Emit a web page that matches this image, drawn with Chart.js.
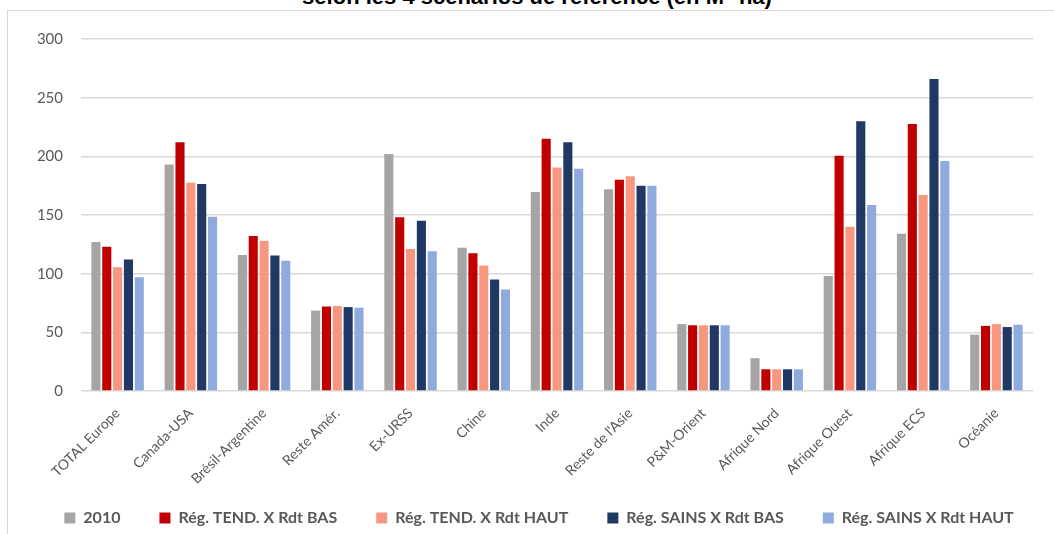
<!DOCTYPE html>
<html>
<head>
<meta charset="utf-8">
<script src="https://cdn.jsdelivr.net/npm/chart.js@4"></script>
<style>
  html, body { margin: 0; padding: 0; background: #fff; }
  #wrap { position: relative; width: 1054px; height: 534px; overflow: hidden; }
  #cadre { position: absolute; left: 7px; top: 10px; width: 1060px; height: 540px; border: 1.5px solid #d9d9d9; box-sizing: border-box; }
  #titre { position: absolute; left: 0; width: 1074px; top: -14.5px; text-align: center; line-height: 22px;
           font-family: "Liberation Sans", Arial, sans-serif; font-weight: bold; font-size: 22px; color: #000; }
  canvas { position: absolute; left: 0; top: 0; }
</style>
</head>
<body>
<div id="wrap">
  <div id="cadre"></div>
  <div id="titre">selon les 4 scénarios de référence (en M° ha)</div>
  <canvas id="graphique" width="1054" height="534"></canvas>
</div>
<script>
// Régions
const regions = ['TOTAL Europe', 'Canada-USA', 'Brésil-Argentine', 'Reste Amér.', 'Ex-URSS', 'Chine', 'Inde',
  "Reste de l'Asie", 'P&M-Orient', 'Afrique Nord', 'Afrique Ouest', 'Afrique ECS', 'Océanie'];

// Séries (M ha)
const val2010       = [127, 193, 116, 68.5, 202, 122, 169.5, 172, 57, 28, 98, 134, 48];
const tendRdtBas    = [123, 212, 132, 72, 148, 117.5, 215, 180, 56, 18.5, 200.5, 227.5, 55.5];
const tendRdtHaut   = [105.5, 177.5, 128, 72.5, 121, 107, 190.5, 183, 56, 18.5, 140, 167, 57];
const sainsRdtBas   = [112, 176.5, 115.5, 71.5, 145, 95, 212, 175, 56, 18.5, 230, 266, 54.5];
const sainsRdtHaut  = [97, 148.5, 111, 71, 119, 86.5, 189.5, 175, 56, 18.5, 158.5, 196, 56.5];

const ticksY = [0, 50, 100, 150, 200, 250, 300];

const policeTexte = 'Lato, "Open Sans", sans-serif';

// les étiquettes inclinées débordent sur la zone de la légende : pas de découpe
const sansDecoupe = {
  id: 'sansDecoupe',
  beforeDraw(chart) {
    chart.scales.x._computeLabelArea = () => undefined;
  }
};

const ctx = document.getElementById('graphique').getContext('2d');
new Chart(ctx, {
  type: 'bar',
  data: {
    labels: regions,
    datasets: [
      { label: '2010', data: val2010, backgroundColor: '#a5a5a5' },
      { label: 'Rég. TEND. X Rdt BAS', data: tendRdtBas, backgroundColor: '#c00000' },
      { label: 'Rég. TEND. X Rdt HAUT', data: tendRdtHaut, backgroundColor: '#f8977f' },
      { label: 'Rég. SAINS X Rdt BAS', data: sainsRdtBas, backgroundColor: '#203864' },
      { label: 'Rég. SAINS X Rdt HAUT', data: sainsRdtHaut, backgroundColor: '#8faadc' }
    ]
  },
  plugins: [sansDecoupe],
  options: {
    responsive: false,
    animation: false,
    datasets: { bar: { categoryPercentage: 0.74, barPercentage: 0.84 } },
    layout: { padding: { left: 24, right: 0, top: 39, bottom: 5 } },
    plugins: {
      tooltip: { enabled: false },
      legend: {
        position: 'bottom',
        maxHeight: 58,
        labels: {
          boxWidth: 11, boxHeight: 11, padding: 39,
          color: '#595959',
          font: { family: policeTexte, size: 16, weight: 'bold' }
        }
      }
    },
    scales: {
      x: {
        grid: { display: false },
        border: { display: false },
        ticks: {
          minRotation: 45, maxRotation: 45, padding: 6,
          color: '#595959',
          font: { family: policeTexte, size: 14 }
        },
        afterFit: scale => { scale.height = 80; }
      },
      y: {
        min: 0, max: 300,
        afterBuildTicks: scale => { scale.ticks = ticksY.map(v => ({ value: v })); },
        grid: { color: '#d9d9d9', lineWidth: 1.5, drawTicks: false },
        border: { display: false },
        ticks: {
          padding: 18,
          color: '#595959',
          font: { family: policeTexte, size: 15 }
        },
        afterFit: scale => { scale.width = 57; }
      },
      marge: {
        position: 'right',
        grid: { display: false },
        border: { display: false },
        ticks: { display: false },
        afterFit: scale => { scale.width = 21; }
      }
    }
  }
});
</script>
</body>
</html>
